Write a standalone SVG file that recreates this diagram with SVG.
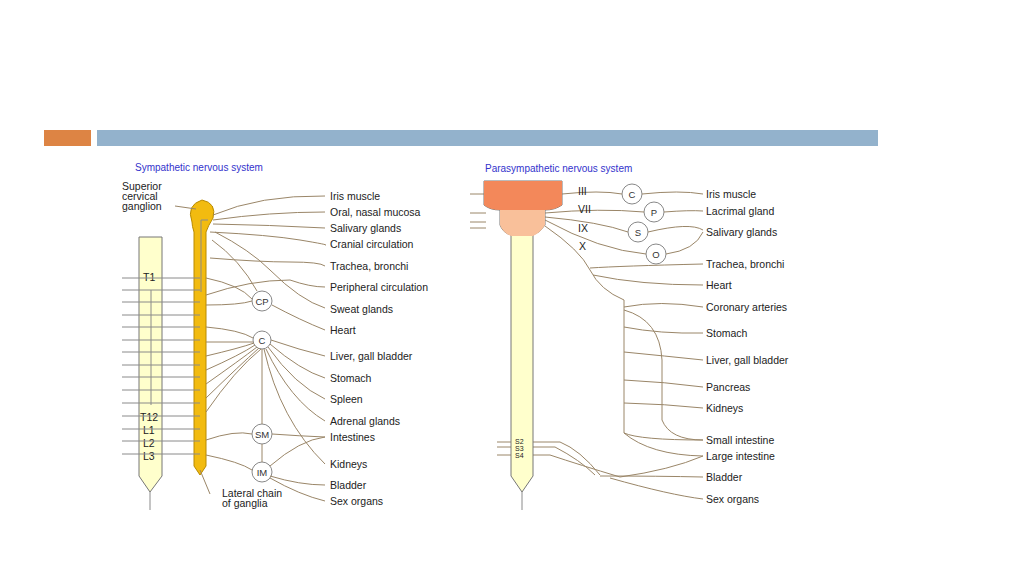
<svg xmlns="http://www.w3.org/2000/svg" width="1024" height="576" viewBox="0 0 1024 576">
<style>
.l{fill:none;stroke:#9a8668;stroke-width:1}
.g{fill:none;stroke:#8a8a8a;stroke-width:1}
.t{font-family:"Liberation Sans",Arial,sans-serif;font-size:10.5px;fill:#222}
.s{font-family:"Liberation Sans",Arial,sans-serif;font-size:7px;fill:#222}
.h{font-family:"Liberation Sans",Arial,sans-serif;font-size:10px;fill:#3333cc}
.c{fill:#fff;stroke:#888;stroke-width:1}
.ct{font-family:"Liberation Sans",Arial,sans-serif;font-size:9.5px;fill:#333;text-anchor:middle}
</style>
<rect width="1024" height="576" fill="#fff"/>
<rect x="44" y="130" width="47" height="16" fill="#dd8444"/>
<rect x="97" y="130" width="781" height="16" fill="#93b2cc"/>
<text class="h" x="135" y="171">Sympathetic nervous system</text>
<text class="h" x="485" y="172">Parasympathetic nervous system</text>

<g id="sym-cord">
<path d="M139 237 H162 V476 L150 492 L139 476 Z" fill="#ffffcc" stroke="#777"/>
<line class="g" x1="150" y1="492" x2="150" y2="510"/>
<line class="g" x1="151" y1="290" x2="151" y2="405"/>
<text class="t" x="143" y="281">T1</text><text class="t" x="140" y="421">T12</text>
<text class="t" x="143" y="434">L1</text><text class="t" x="143" y="447">L2</text><text class="t" x="143" y="460">L3</text>
</g>
<g id="sym-chain">
<path d="M192 222 Q186 205 202 200 Q217 203 213 218 Q208 226 206 232 V466 L200 475 L194 466 V232 Q192 226 192 222 Z" fill="#f2bb10" stroke="#b88a00"/>
<path class="g" d="M201 292 V220 H208"/>
</g>
<g id="ganglia">
<circle class="c" cx="262" cy="301" r="10"/><text class="ct" x="262" y="305">CP</text>
<circle class="c" cx="262" cy="340" r="9"/><text class="ct" x="262" y="344">C</text>
<circle class="c" cx="262" cy="434" r="10"/><text class="ct" x="262" y="438">SM</text>
<circle class="c" cx="262" cy="472" r="10"/><text class="ct" x="262" y="476">IM</text>
<circle class="c" cx="632" cy="194" r="10"/><text class="ct" x="632" y="198">C</text>
<circle class="c" cx="654" cy="212" r="10"/><text class="ct" x="654" y="216">P</text>
<circle class="c" cx="638" cy="232" r="10"/><text class="ct" x="638" y="236">S</text>
<circle class="c" cx="656" cy="254" r="10"/><text class="ct" x="656" y="258">O</text>
</g>
<g id="connectors">
<path class="g" d="M122 278H200M122 290H200M122 302H200M122 315H200M122 327H200M122 340H200M122 352H200M122 365H200M122 377H200M122 390H200M122 403H200M122 416H200M122 429H200M122 441H200M122 454H200"/>
<path class="l" d="M175 206 L196 209"/>
<path class="l" d="M210 494 L200 470"/>
<path class="l" d="M213 215 Q260 195 325 196M213 220 Q270 212 325 212M213 224 Q270 225 325 228M210 232 Q270 235 300 240 T325 245M210 258 Q260 262 290 262 T325 266M206 295 Q250 280 290 280 Q310 287 325 287M212 240 Q240 260 257 291M215 232 Q250 250 270 270 Q300 300 325 308M206 278 Q240 285 252 299M206 305 Q240 305 252 301M272 305 Q300 320 325 330"/>
<path class="l" d="M206 327 Q240 330 253 338M206 342H253M206 356 Q240 348 254 343M206 370 Q240 355 255 345M206 384 Q240 360 257 347M206 398 Q240 365 259 348M206 412 Q235 370 261 349"/>
<path class="l" d="M271 340 Q300 350 325 356M270 344 Q300 370 325 378M268 347 Q295 385 325 399M266 349 Q290 400 325 421M264 349 Q280 420 325 464M262 349 L262 424"/>
<path class="l" d="M206 440 Q235 430 252 434M272 434 Q300 436 325 437M262 444 V462M206 455 Q240 462 252 470M270 466 Q300 440 325 437M270 476 Q300 485 325 485M270 478 Q300 495 325 501"/>
<path class="l" d="M470 194H486M470 213H486M470 222H486M470 228H486"/>
<path class="l" d="M562 194 Q600 190 622 194M642 194 Q680 190 703 194M545 213 Q600 208 644 212M664 212 Q690 210 703 211M545 217 Q600 222 628 232M648 232 Q690 222 703 230M545 220 Q600 250 646 254M666 254 Q695 250 703 232M545 226 Q580 250 590 270 Q600 290 624 300 V433 Q640 440 703 440"/>
<path class="l" d="M590 268 Q620 266 703 264M593 275 Q640 285 703 285M624 307 Q660 300 703 307M624 327 Q660 334 703 333M624 352 Q665 356 703 360M624 380 Q665 382 703 387M624 403 Q665 404 703 408M624 310 Q660 320 662 360 V420 Q670 440 703 440M624 433 Q650 455 703 456"/>
<path class="l" d="M497 442 H560 Q580 450 600 475M497 447 H555 Q580 460 595 475M497 455 H550 Q580 465 620 477 Q670 470 703 456M600 476 Q660 476 703 477M610 478 Q670 495 703 499"/>
</g>
<g id="para-cord">
<path d="M484 181 H562 V205 Q555 210 545 210 V225 Q540 233 533 235 V476 L522 492 L511 476 V235 Q503 233 500 225 V210 Q490 210 484 205 Z" fill="#ffffcc" stroke="#777"/>
<path d="M484 181 H562 V205 Q555 210 545 210 H500 Q490 210 484 205 Z" fill="#f3885a"/>
<path d="M500 210 H545 V225 Q540 233 533 236 H511 Q503 233 500 225 Z" fill="#f9c09a"/>
<line class="g" x1="522" y1="492" x2="522" y2="510"/>
<text class="t" x="578" y="195">III</text><text class="t" x="578" y="213">VII</text>
<text class="t" x="578" y="232">IX</text><text class="t" x="579" y="250">X</text>
<text class="s" x="515" y="444">S2</text><text class="s" x="515" y="451">S3</text><text class="s" x="515" y="458">S4</text>
</g>
<g id="labels">
<text class="t" x="330" y="200">Iris muscle</text><text class="t" x="330" y="216">Oral, nasal mucosa</text>
<text class="t" x="330" y="232">Salivary glands</text><text class="t" x="330" y="248">Cranial circulation</text>
<text class="t" x="330" y="270">Trachea, bronchi</text><text class="t" x="330" y="291">Peripheral circulation</text>
<text class="t" x="330" y="313">Sweat glands</text><text class="t" x="330" y="334">Heart</text>
<text class="t" x="330" y="360">Liver, gall bladder</text><text class="t" x="330" y="382">Stomach</text>
<text class="t" x="330" y="403">Spleen</text><text class="t" x="330" y="425">Adrenal glands</text>
<text class="t" x="330" y="441">Intestines</text><text class="t" x="330" y="468">Kidneys</text>
<text class="t" x="330" y="489">Bladder</text><text class="t" x="330" y="505">Sex organs</text>
<text class="t" x="122" y="190">Superior</text><text class="t" x="122" y="200">cervical</text><text class="t" x="122" y="210">ganglion</text>
<text class="t" x="222" y="497">Lateral chain</text><text class="t" x="222" y="507">of ganglia</text>
<text class="t" x="706" y="198">Iris muscle</text><text class="t" x="706" y="215">Lacrimal gland</text>
<text class="t" x="706" y="236">Salivary glands</text><text class="t" x="706" y="268">Trachea, bronchi</text>
<text class="t" x="706" y="289">Heart</text><text class="t" x="706" y="311">Coronary arteries</text>
<text class="t" x="706" y="337">Stomach</text><text class="t" x="706" y="364">Liver, gall bladder</text>
<text class="t" x="706" y="391">Pancreas</text><text class="t" x="706" y="412">Kidneys</text>
<text class="t" x="706" y="444">Small intestine</text><text class="t" x="706" y="460">Large intestine</text>
<text class="t" x="706" y="481">Bladder</text><text class="t" x="706" y="503">Sex organs</text>
</g>
</svg>
